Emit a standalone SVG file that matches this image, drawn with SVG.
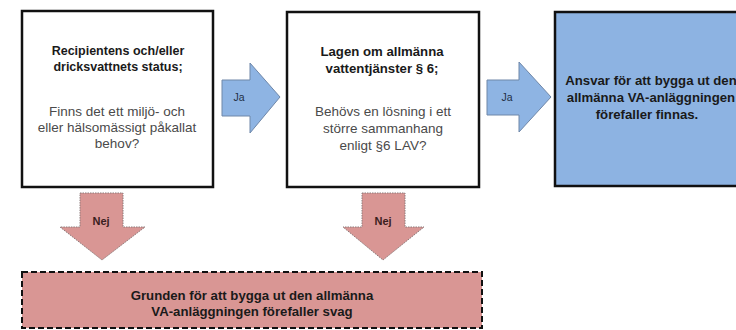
<svg xmlns="http://www.w3.org/2000/svg" width="736" height="330" viewBox="0 0 736 330">
<style>
.box{fill:#ffffff;stroke:#111;stroke-width:2.5}
.blue{fill:#8DB3E2;stroke:#111;stroke-width:2.5}
.pinkbox{fill:#D99694;stroke:#111;stroke-width:2;stroke-dasharray:6 3}
.ja{fill:#8EB4E3;stroke:#6F87A8;stroke-width:1}
.nej{fill:#D99694;stroke:#8C7A7A;stroke-width:1;stroke-dasharray:1.5 1}
text{font-family:"Liberation Sans",Arial,sans-serif;text-anchor:middle}
.b{font-weight:bold;font-size:12.5px;fill:#1a1a1a}
.b2{font-weight:bold;font-size:13.2px;fill:#1a1a1a}
.r{font-size:13.5px;fill:#4a4a4a}
.l{font-size:10.5px;fill:#1f2f45}
.ln{font-size:11px;fill:#3a2020;font-weight:bold}
</style>
<g id="connectors">
<g id="ja1"><path class="ja" d="M222,80 H250 V63 L280,97 L250,133 V116 H222 Z"/><text class="l" x="239" y="101">Ja</text></g>
<g id="ja2"><path class="ja" d="M487,80 H519 V62 L551,97 L519,132 V115 H487 Z"/><text class="l" x="507" y="101">Ja</text></g>
<g id="nej1"><path class="nej" d="M80,193 H123 V227 H145 L102,260 L60,227 H80 Z"/><text class="ln" x="101" y="225">Nej</text></g>
<g id="nej2"><path class="nej" d="M362,193 H405 V227 H424 L383,260 L343,227 H362 Z"/><text class="ln" x="383" y="225">Nej</text></g>
</g>
<g id="node1">
<rect class="box" x="22" y="11" width="191" height="176"/>
<text class="b" x="118" y="55">Recipientens och/eller</text>
<text class="b" x="118" y="71">dricksvattnets status;</text>
<text class="r" x="117" y="116">Finns det ett miljö- och</text>
<text class="r" x="117" y="132">eller hälsomässigt påkallat</text>
<text class="r" x="117" y="148">behov?</text>
</g>
<g id="node2">
<rect class="box" x="287" y="12" width="192" height="175"/>
<text class="b2" x="382" y="56">Lagen om allmänna</text>
<text class="b2" x="382" y="73">vattentjänster § 6;</text>
<text class="r" x="383" y="116">Behövs en lösning i ett</text>
<text class="r" x="383" y="133">större sammanhang</text>
<text class="r" x="383" y="150">enligt §6 LAV?</text>
</g>
<g id="node3">
<rect class="blue" x="555" y="12" width="195" height="174"/>
<text class="b2" x="651" y="85">Ansvar för att bygga ut den</text>
<text class="b2" x="651" y="102">allmänna VA-anläggningen</text>
<text class="b2" x="647" y="119">förefaller finnas.</text>
</g>
<g id="node4">
<rect class="pinkbox" x="22" y="272" width="460" height="56"/>
<text class="b2" x="252" y="300">Grunden för att bygga ut den allmänna</text>
<text class="b2" x="252" y="316">VA-anläggningen förefaller svag</text>
</g>
</svg>
